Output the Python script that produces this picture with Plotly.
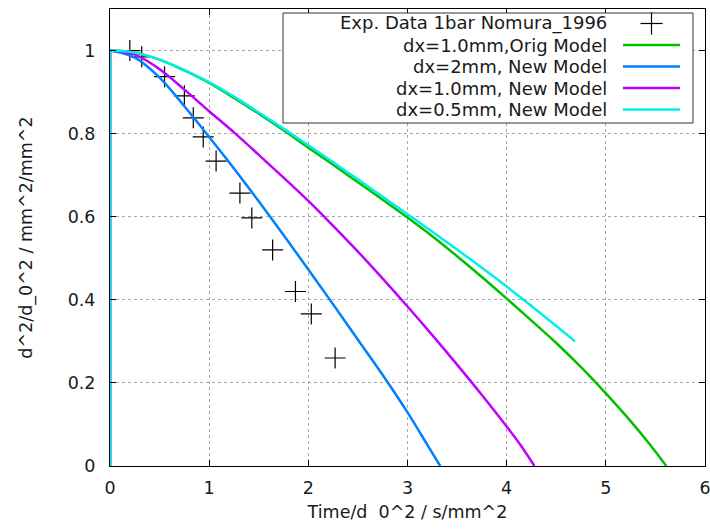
import plotly.graph_objects as go

# ---------------- data ----------------
exp_x = [0.20, 0.32, 0.55, 0.75, 0.84, 0.94, 1.07, 1.31, 1.43, 1.64, 1.87, 2.03, 2.27]
exp_y = [1.000, 0.985, 0.937, 0.891, 0.838, 0.792, 0.734, 0.657, 0.597, 0.520, 0.420, 0.366, 0.260]

orig_x = [0, 0, 0.25, 0.5, 0.75, 1.0, 1.25, 1.5, 1.75, 2.0, 2.25, 2.5, 2.75, 3.0, 3.25, 3.5,
          3.75, 4.0, 4.25, 4.5, 4.75, 5.0, 5.25, 5.45, 5.61]
orig_y = [0, 1, 0.995, 0.978, 0.952, 0.922, 0.886, 0.848, 0.808, 0.766, 0.725, 0.683, 0.641,
          0.598, 0.553, 0.505, 0.455, 0.403, 0.350, 0.296, 0.238, 0.175, 0.108, 0.05, 0.0]

dx2_x = [0, 0, 0.25, 0.5, 0.75, 1.0, 1.25, 1.5, 1.75, 2.0, 2.25, 2.5, 2.75, 3.0, 3.2, 3.33]
dx2_y = [0, 1, 0.983, 0.935, 0.866, 0.792, 0.716, 0.637, 0.556, 0.473, 0.389, 0.304, 0.219,
         0.129, 0.051, 0.0]

dx1_x = [0, 0, 0.25, 0.5, 0.75, 1.0, 1.25, 1.5, 1.75, 2.0, 2.25, 2.5, 2.75, 3.0, 3.25, 3.5,
         3.75, 4.0, 4.15, 4.28]
dx1_y = [0, 1, 0.99, 0.955, 0.906, 0.854, 0.803, 0.749, 0.694, 0.638, 0.578, 0.516, 0.451,
         0.384, 0.315, 0.244, 0.171, 0.095, 0.047, 0.0]

dx05_x = [0, 0, 0.25, 0.5, 0.75, 1.0, 1.25, 1.5, 1.75, 2.0, 2.25, 2.5, 2.75, 3.0, 3.25, 3.5,
          3.75, 4.0, 4.25, 4.5, 4.69]
dx05_y = [0, 1, 0.995, 0.978, 0.953, 0.924, 0.889, 0.851, 0.812, 0.772, 0.731, 0.69, 0.648,
          0.606, 0.564, 0.521, 0.477, 0.432, 0.385, 0.337, 0.30]

x_ticks = [0, 1, 2, 3, 4, 5, 6]
y_ticks = [0, 0.2, 0.4, 0.6, 0.8, 1.0]
y_ticktext = ["0", "0.2", "0.4", "0.6", "0.8", "1"]

legend_names = ["Exp. Data 1bar Nomura_1996", "dx=1.0mm,Orig Model",
                "dx=2mm, New Model", "dx=1.0mm, New Model", "dx=0.5mm, New Model"]
colors = ["#000000", "#00c000", "#0080ff", "#c000ff", "#00eeee"]

FONT = "DejaVu Sans"
FS = 17.5
FS_LEG = 18
TXT = "#1a1a1a"

fig = go.Figure()
fig.add_trace(go.Scatter(x=exp_x, y=exp_y, mode="markers", name=legend_names[0],
                         marker=dict(symbol="cross-thin", size=15,
                                     line=dict(width=1.2, color=colors[0])),
                         showlegend=False))
for xs, ys, nm, c in [(orig_x, orig_y, legend_names[1], colors[1]),
                      (dx2_x, dx2_y, legend_names[2], colors[2]),
                      (dx1_x, dx1_y, legend_names[3], colors[3]),
                      (dx05_x, dx05_y, legend_names[4], colors[4])]:
    # vertical start segment at x=0 (straight), then the smooth curve
    fig.add_trace(go.Scatter(x=xs[:2], y=ys[:2], mode="lines", name=nm,
                             line=dict(color=c, width=2.5), showlegend=False))
    fig.add_trace(go.Scatter(x=xs[1:], y=ys[1:], mode="lines", name=nm,
                             line=dict(color=c, width=2.5, shape="spline", smoothing=1.0),
                             showlegend=False))

# ---------------- manual gnuplot-style legend ----------------
L, R, T, B = 110, 705, 9, 466
W, H = R - L, B - T
def px(xp):
    return (xp - L) / W
def py(yp):
    return (B - yp) / H

shapes = [dict(type="rect", xref="paper", yref="paper",
               x0=px(283), x1=px(693), y0=py(123), y1=py(13),
               line=dict(color="#333333", width=1), fillcolor="white", layer="above")]
annotations = []
row_y = [23.5, 45, 66.5, 88, 109.5]
for i, nm in enumerate(legend_names):
    annotations.append(dict(xref="paper", yref="paper", x=px(609), y=py(row_y[i]),
                            text=nm, showarrow=False, xanchor="right", yanchor="middle",
                            font=dict(family=FONT, size=FS_LEG, color=TXT)))
    if i == 0:
        cx, cy = 651.5, row_y[i]
        shapes.append(dict(type="line", xref="paper", yref="paper",
                           x0=px(cx - 11), x1=px(cx + 11), y0=py(cy), y1=py(cy),
                           line=dict(color="black", width=1.2), layer="above"))
        shapes.append(dict(type="line", xref="paper", yref="paper",
                           x0=px(cx), x1=px(cx), y0=py(cy - 11), y1=py(cy + 11),
                           line=dict(color="black", width=1.2), layer="above"))
    else:
        shapes.append(dict(type="line", xref="paper", yref="paper",
                           x0=px(623), x1=px(680), y0=py(row_y[i]), y1=py(row_y[i]),
                           line=dict(color=colors[i], width=2.5), layer="above"))

axis_common = dict(showline=True, linecolor="black", linewidth=1, mirror="ticks",
                   ticks="inside", ticklen=6, tickcolor="black", tickwidth=1,
                   showgrid=True, gridcolor="#a8a8a8", griddash="dot", gridwidth=1,
                   zeroline=False, ticklabeloverflow="allow", automargin=False,
                   tickfont=dict(family=FONT, size=FS, color=TXT))

fig.update_layout(
    width=710, height=529,
    margin=dict(l=L, r=710 - R, t=T, b=529 - B),
    plot_bgcolor="white", paper_bgcolor="white",
    xaxis=dict(range=[0, 6], tickvals=x_ticks, ticklabelstandoff=6,
               title=dict(text="Time/d\u00a0\u00a00^2 / s/mm^2",
                          font=dict(family=FONT, size=FS, color=TXT), standoff=8),
               **axis_common),
    yaxis=dict(range=[0, 1.1], tickvals=y_ticks, ticktext=y_ticktext, ticklabelstandoff=10,
               title=dict(text="d^2/d_0^2 / mm^2/mm^2",
                          font=dict(family=FONT, size=FS, color=TXT), standoff=30),
               **axis_common),
    shapes=shapes, annotations=annotations, showlegend=False,
)

fig.write_html("out.html")
